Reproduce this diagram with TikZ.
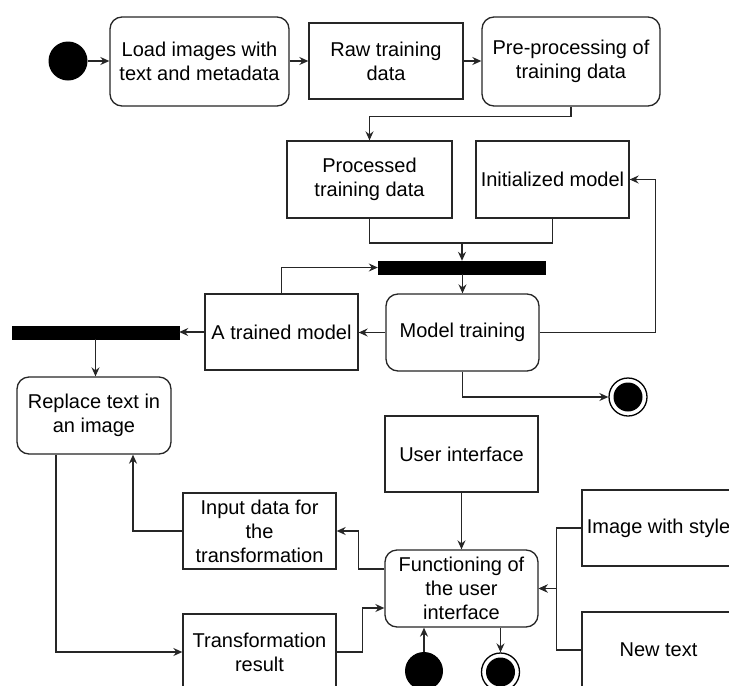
\documentclass[tikz,border=0pt]{standalone}
\usepackage{fontspec}
\setmainfont{Liberation Sans}
\usetikzlibrary{arrows.meta,positioning,calc}

\tikzset{
  every node/.style={font=\fontsize{20}{24}\selectfont, inner sep=0pt, align=center},
  box/.style={draw=black!85, line width=1.3pt, rectangle, fill=white},
  act/.style={box, rounded corners=12pt},
  bar/.style={fill=black, draw=black, rectangle, minimum width=167pt, minimum height=13pt},
  initnode/.style={circle, fill=black, minimum size=39pt},
  finalnode/.style={circle, draw=black, line width=1.3pt, fill=white, minimum size=38pt,
    path picture={\fill[black] (path picture bounding box.center) circle (14.5pt);}},
  flow/.style={draw=black!85, line width=1.3pt, -{Stealth[length=9pt,width=8pt,inset=3pt]}},
  link/.style={draw=black!85, line width=1.3pt},
}

\begin{document}
\begin{tikzpicture}[x=1pt,y=1pt]
\useasboundingbox (0,0) rectangle (729,-686);
\clip (0,0) rectangle (729,-686);

% training pipeline
\node[initnode] (start1) at (68,-61) {};
\node[act, minimum width=179pt, minimum height=89pt] (load) at (199.5,-61.5) {Load images with\\text and metadata};
\node[box, minimum width=154pt, minimum height=76pt] (raw) at (386,-61) {Raw training\\data};
\node[act, minimum width=178pt, minimum height=89pt] (pre) at (571,-61.5) {Pre-processing of\\training data};
\node[box, minimum width=165pt, minimum height=77pt] (proc) at (369.5,-179.5) {Processed\\training data};
\node[box, minimum width=153pt, minimum height=77pt] (init) at (552.5,-179.5) {Initialized model};
\node[bar] (bar1) at (461.5,-267.5) {};
\node[act, minimum width=153pt, minimum height=77pt] (train) at (462.5,-332.5) {Model training};
\node[box, minimum width=153pt, minimum height=76pt] (trained) at (281.5,-332) {A trained model};
\node[bar] (bar2) at (95.5,-332.5) {};
\node[act, minimum width=154pt, minimum height=77pt] (replace) at (94,-415.5) {Replace text in\\an image};
\node[finalnode] (end1) at (628,-397) {};

% user interface part
\node[box, minimum width=153pt, minimum height=76pt] (ui) at (461.5,-454) {User interface};
\node[box, minimum width=153pt, minimum height=76pt] (input) at (259.5,-531) {Input data for\\the\\transformation};
\node[act, minimum width=153pt, minimum height=77pt] (func) at (461.5,-588.5) {Functioning of\\the user\\interface};
\node[box, minimum width=153pt, minimum height=76pt] (style) at (658.5,-528) {Image with style};
\node[box, minimum width=153pt, minimum height=76pt] (newtext) at (658.5,-650) {New text};
\node[box, minimum width=153pt, minimum height=76pt] (transf) at (259.5,-652) {Transformation\\result};
\node[initnode, minimum size=38pt] (start2) at (424,-671) {};
\node[finalnode] (end2) at (500.5,-672) {};

\coordinate (join) at (462,-243);

% connectors
\draw[flow] (start1.east) -- (start1.east -| load.west);
\draw[flow] (load.east |- raw.west) -- (raw.west);
\draw[flow] (raw.east) -- (raw.east -| pre.west);
\draw[flow] (pre.south) -- ++(0,-10) -| (proc.north);
\draw[link] (proc.south) |- (join);
\draw[link] (init.south) |- (join);
\draw[flow] (join) -- (join |- bar1.north);
\draw[flow] (train.north |- bar1.south) -- (train.north);
\draw[flow] (train.east) -- ++(116,0) |- (init.east);
\draw[flow] (train.west) -- (train.west -| trained.east);
\draw[flow] (trained.west) -- (trained.west -| bar2.east);
\draw[flow] (trained.north) |- (bar1.west);
\draw[flow] (bar2.south) -- (bar2.south |- replace.north);
\draw[flow] (train.south) |- (end1.west);

\draw[flow] (ui.south) -- (func.north);
\draw[flow] ([yshift=19.5pt]func.west) -- ++(-26,0) |- (input.east);
\draw[flow] (input.west) -| ([xshift=39pt]replace.south);
\draw[flow] ([xshift=-38pt]replace.south) |- (transf.west);
\draw[flow] (transf.east) -- ++(26,0) |- ([yshift=-19.5pt]func.west);
\draw[flow] (style.west) -- ++(-25,0) |- (func.east);
\draw[flow] (newtext.west) -- ++(-25,0) |- (func.east);
\draw[flow] (start2.north) -- (start2.north |- func.south);
\draw[flow] (end2.north |- func.south) -- (end2.north);
\end{tikzpicture}
\end{document}
